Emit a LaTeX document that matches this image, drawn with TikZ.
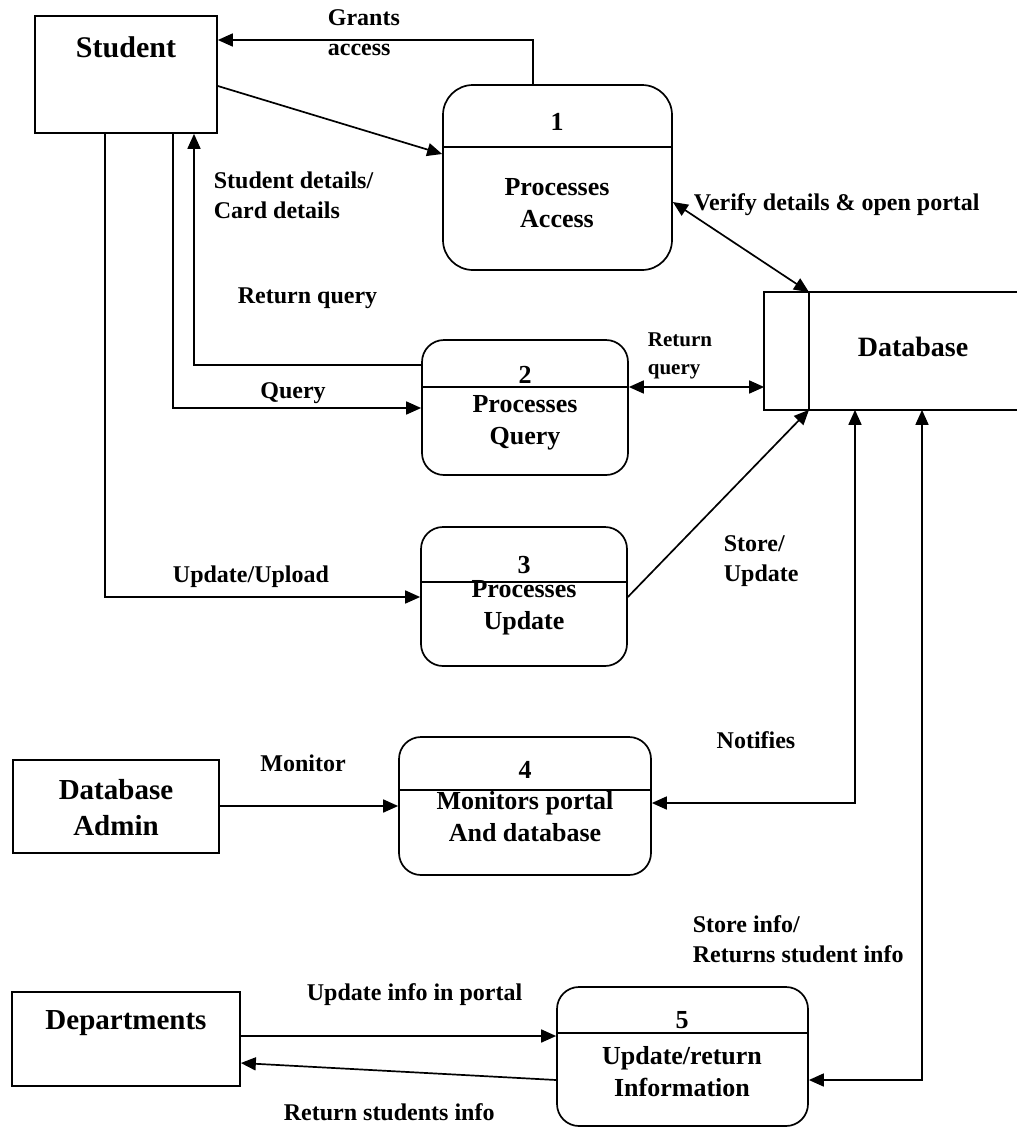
\documentclass[tikz,border=0pt]{standalone}
\usepackage{fontspec}
\setmainfont{Liberation Serif}
\usetikzlibrary{arrows.meta}
\begin{document}
\begin{tikzpicture}[x=1pt,y=-1pt,line width=1.7pt,
  box/.style={draw,inner sep=0pt},
  proc/.style={draw,inner sep=0pt,rounded corners=#1},
  proc/.default=22pt,
  lbl/.style={font=\fontsize{24}{30}\selectfont\bfseries,inner sep=0pt,align=left},
  slbl/.style={font=\fontsize{21}{28}\selectfont\bfseries,inner sep=0pt,align=left},
  ptxt/.style={font=\fontsize{26}{32}\selectfont\bfseries,inner sep=0pt,align=center},
  etxt/.style={font=\fontsize{30}{36}\selectfont\bfseries,inner sep=0pt,align=center},
  flow/.style={-{Triangle[length=15pt,width=13pt]}},
  biflow/.style={{Triangle[length=15pt,width=13pt]}-{Triangle[length=15pt,width=13pt]}}]
\useasboundingbox[fill=white] (0,0) rectangle (1017,1128);

% external entities
\node[box,minimum width=182,minimum height=117] (stu) at (126,74.5) {};
\node[etxt] (stuT) at (126,47) {Student};
\node[box,minimum width=206,minimum height=93] (adm) at (116,806.5) {};
\node[etxt,font=\fontsize{29}{36}\selectfont\bfseries] (admT) at (116,808) {Database\\Admin};
\node[box,minimum width=228,minimum height=94] (dept) at (126,1039) {};
\node[etxt,font=\fontsize{29}{36}\selectfont\bfseries] (deptT) at (126,1023) {Departments};

% data store, open on the right
\node[inner sep=0pt,minimum width=252,minimum height=116] (db) at (891,351) {};
\draw (db.north east) -- (db.north west) -- (db.south west) -- (db.south east);
\draw (db.north west -| 809,0) -- (db.south west -| 809,0);
\node[etxt,font=\fontsize{28}{34}\selectfont\bfseries] (dbT) at (913,347) {Database};

% processes
\node[proc=30pt,minimum width=229,minimum height=185] (p1) at (557.5,177.5) {};
\draw (p1.west |- 0,147) -- (p1.east |- 0,147);
\node[ptxt] (p1n) at (557,122) {1};
\node[ptxt] (p1t) at (557,203.5) {Processes\\Access};

\node[proc,minimum width=206,minimum height=135] (p2) at (525,407.5) {};
\draw (p2.west |- 0,387) -- (p2.east |- 0,387);
\node[ptxt] (p2n) at (525,375) {2};
\node[ptxt] (p2t) at (525,422.5) {Processes\\Query};

\node[proc,minimum width=206,minimum height=139] (p3) at (524,596.5) {};
\draw (p3.west |- 0,582) -- (p3.east |- 0,582);
\node[ptxt] (p3n) at (524,565) {3};
\node[ptxt] (p3t) at (524,607.5) {Processes\\Update};

\node[proc,minimum width=252,minimum height=138] (p4) at (525,806) {};
\draw (p4.west |- 0,790) -- (p4.east |- 0,790);
\node[ptxt] (p4n) at (525,770) {4};
\node[ptxt] (p4t) at (525,817) {Monitors portal\\And database};

\node[proc,minimum width=251,minimum height=139] (p5) at (682.5,1056.5) {};
\draw (p5.west |- 0,1033) -- (p5.east |- 0,1033);
\node[ptxt] (p5n) at (682,1020) {5};
\node[ptxt] (p5t) at (682,1072) {Update/return\\Information};

% data flows
\draw[flow] (stu.east |- 0,86) -- (p1.west |- 0,154);
\draw[flow] (p1.north -| 533,0) |- (stu.east |- 0,40);
\draw[flow] (p2.west |- 0,365) -| (stu.south -| 194,0);
\draw[flow] (stu.south -| 173,0) |- (p2.west |- 0,408);
\draw[flow] (stu.south -| 105,0) |- (p3.west |- 0,597);
\draw[biflow] (p1.east |- 0,202) -- (db.north -| 809,0);
\draw[biflow] (p2.east |- 0,387) -- (db.west |- 0,387);
\draw[flow] (p3.east |- 0,597) -- (db.south -| 809,0);
\draw[biflow] (db.south -| 855,0) |- (p4.east |- 0,803);
\draw[biflow] (db.south -| 922,0) |- (p5.east |- 0,1080);
\draw[flow] (adm.east |- 0,806) -- (p4.west |- 0,806);
\draw[flow] (dept.east |- 0,1036) -- (p5.west |- 0,1036);
\draw[flow] (p5.west |- 0,1080) -- (dept.east |- 0,1063);

% flow labels
\node[lbl,anchor=west] (lGrant) at (327,33) {Grants\\access};
\node[lbl,anchor=west] (lDet) at (213,195) {Student details/\\Card details};
\node[lbl,anchor=west] (lRet) at (237,298) {Return query};
\node[lbl] (lQuery) at (293,393) {Query};
\node[lbl] (lUpd) at (251,577) {Update/Upload};
\node[lbl,anchor=west] (lVer) at (693,205) {Verify details \& open portal};
\node[slbl,anchor=west] (lRet2) at (647,356) {Return\\query};
\node[lbl,anchor=west] (lStore) at (723,561) {Store/\\Update};
\node[lbl] (lNot) at (756,740) {Notifies};
\node[lbl] (lMon) at (303,763) {Monitor};
\node[lbl,anchor=west] (lInfo) at (692,939) {Store info/\\Returns student info};
\node[lbl,anchor=west] (lPortal) at (306,995) {Update info in portal};
\node[lbl,anchor=west] (lRetS) at (283,1112) {Return students info};
\end{tikzpicture}
\end{document}
